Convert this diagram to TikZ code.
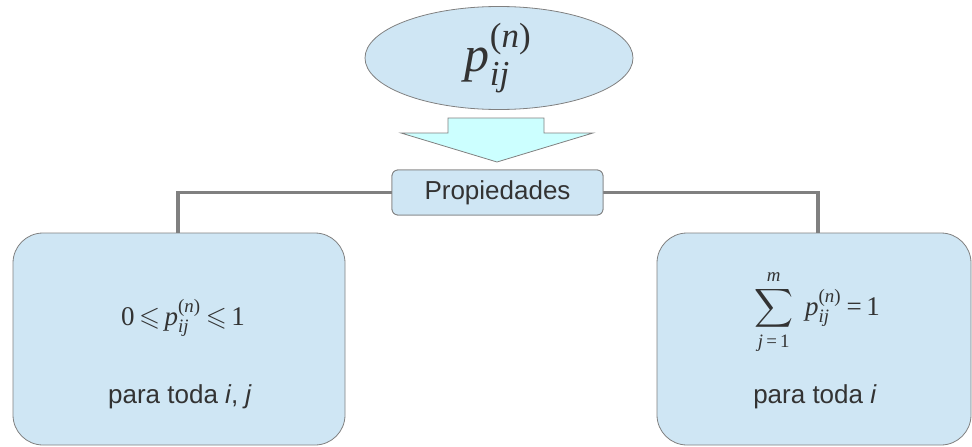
\documentclass[tikz,border=0pt]{standalone}
\usepackage{amsmath}
\usepackage{amssymb}
\usepackage{graphicx}
\usepackage{fontspec}
\setmainfont{Liberation Sans}
\newfontfamily\mserif{Liberation Serif}
\newcommand{\tv}[1]{\text{\mserif #1}}
\newcommand{\pij}{\tv{\itshape p}_{\tv{\itshape ij}}^{\tv{(\itshape n\/\upshape)}}}
\usetikzlibrary{shapes.geometric}
\definecolor{boxfill}{HTML}{CFE6F4}
\definecolor{boxline}{HTML}{808080}
\definecolor{arrfill}{HTML}{CCFFFF}
\definecolor{txt}{HTML}{333333}
\tikzset{
  box/.style={draw=boxline, line width=0.8pt, fill=boxfill, rounded corners=30pt, text=txt, inner sep=0pt},
  smallbox/.style={draw=boxline, line width=0.8pt, fill=boxfill, rounded corners=6pt, text=txt, inner sep=0pt,
     minimum width=211pt, minimum height=45pt, font=\fontsize{26}{30}\selectfont},
  oval/.style={ellipse, draw=boxline, line width=0.8pt, fill=boxfill, text=txt, inner sep=0pt,
     minimum width=268pt, minimum height=103pt},
  conn/.style={draw=boxline, line width=3.5pt},
  blockarrow/.style={draw=boxline, line width=0.8pt, fill=arrfill},
  lbl/.style={text=txt, inner sep=0pt, font=\fontsize{26}{30}\selectfont},
  frm/.style={text=txt, inner sep=0pt, font=\fontsize{10}{12}\selectfont}
}
\begin{document}
\begin{tikzpicture}[x=1pt,y=-1pt]
\useasboundingbox (0,0) rectangle (972,447);
% top ellipse
\node[oval, font=\fontsize{10}{12}\selectfont] (top) at (499,58) {\scalebox{5}{$\pij$}};
% block arrow
\draw[blockarrow] (448,118) -- (544,118) -- (544,133) -- (593,133) -- (497,162) -- (401,133) -- (448,133) -- cycle;
% boxes
\node[box, minimum width=332pt, minimum height=212pt] (left) at (179,339) {};
\node[box, minimum width=314pt, minimum height=212pt] (right) at (814,339) {};
\node[smallbox] (prop) at (497.5,192.5) {Propiedades};
% connectors
\draw[conn] (prop.west) -| (178,233);
\draw[conn] (prop.east) -| (818,233);
\node[smallbox] at (prop) {Propiedades};
% formulas
\node[frm] (f1) at (183,318) {\scalebox{2.7}{$\tv{0}\,{\leqslant}\,\pij\,{\leqslant}\,\tv{1}$}};
\node[lbl, anchor=base] (t1) at (180,403) {para toda \textit{i}, \textit{j}};
\node[frm] (f2) at (817,312) {\scalebox{2.7}{$\displaystyle\sum_{\tv{\itshape j}\tv{\,=\,1}}^{\tv{\itshape m}}\; \pij\tv{\,=\,1}$}};
\node[lbl, anchor=base] (t2) at (815,403) {para toda \textit{i}};
\end{tikzpicture}
\end{document}
